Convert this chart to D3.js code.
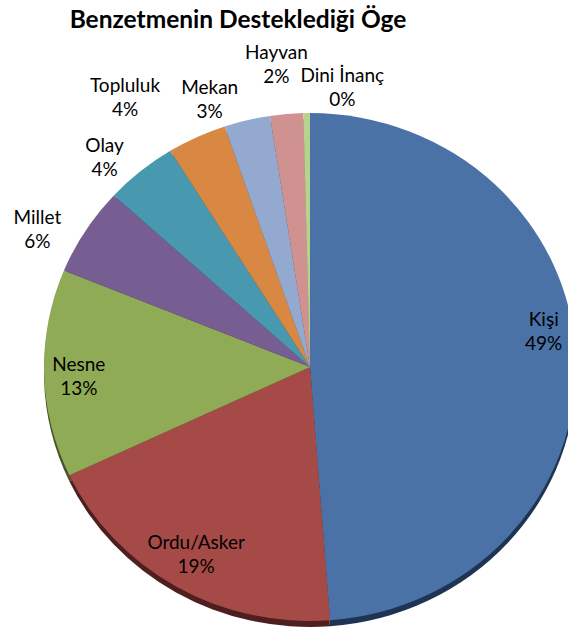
<!DOCTYPE html>
<html>
<head>
<meta charset="utf-8">
<script src="https://cdn.jsdelivr.net/npm/d3@7"></script>
<style>
  body { margin: 0; background: #fff; }
  text { font-family: Lato, "Open Sans", sans-serif; fill: #000; }
</style>
</head>
<body>
<svg id="chart" width="568" height="640"></svg>
<script>
const TITLE = "Benzetmenin Desteklediği Öge";
const categories = ["Kişi", "Ordu/Asker", "Nesne", "Millet", "Olay", "Topluluk", "Mekan", "Hayvan", "Dini İnanç"];
const counts = [122, 48, 33, 14, 11, 9, 7, 5, 1];
const colors = ["#4A72A6", "#A64A47", "#8FAB56", "#765E93", "#4899AF", "#D98843", "#94A9CF", "#CF9291", "#B6D38B"];
const sideColors = ["#1F3352", "#4E1F1E", "#45542A", "#3A2C48", "#224A55", "#6A401E", "#485166", "#654545", "#586645"];
// label placement: radius factor of pie, angle nudge in degrees
const labelRadius = [0.89, 0.85, 0.87, 1.16, 1.13, 1.27, 1.12, 1.2, 1.11];
const labelNudge = [-7, 0, -1, -4.5, -3.5, -8, -6, -1, 7];

const svg = d3.select("#chart");
const cx = 310, cy = 367, rx = 266, ry = 254, depth = 6;
const total = d3.sum(counts);

const pie = d3.pie().sort(null).value(d => d);
const arcs = pie(counts);
const arc = d3.arc().innerRadius(0).outerRadius(rx);

svg.append("text")
  .attr("x", 238)
  .attr("y", 28)
  .attr("text-anchor", "middle")
  .style("font-size", "24.5px")
  .style("font-weight", "bold")
  .text(TITLE);

// side wall (3d depth)
svg.append("g")
  .attr("transform", `translate(${cx},${cy + depth}) scale(1,${ry / rx})`)
  .selectAll("path")
  .data(arcs)
  .enter()
  .append("path")
  .attr("d", arc)
  .attr("fill", (d, i) => sideColors[i]);

svg.append("g")
  .attr("transform", `translate(${cx},${cy}) scale(1,${ry / rx})`)
  .selectAll("path")
  .data(arcs)
  .enter()
  .append("path")
  .attr("d", arc)
  .attr("fill", (d, i) => colors[i]);

const fmt = v => Math.round(v / total * 100) + "%";

const labels = svg.append("g")
  .selectAll("text")
  .data(arcs)
  .enter()
  .append("text")
  .attr("text-anchor", "middle")
  .style("font-size", "19px")
  .attr("transform", (d, i) => {
    const a = (d.startAngle + d.endAngle) / 2 + labelNudge[i] * Math.PI / 180;
    const x = cx + rx * labelRadius[i] * Math.sin(a);
    const y = cy - ry * labelRadius[i] * Math.cos(a);
    return `translate(${x},${y})`;
  });

labels.append("tspan")
  .attr("x", 0)
  .attr("y", -5)
  .text((d, i) => categories[i]);

labels.append("tspan")
  .attr("x", 0)
  .attr("y", 19)
  .text(d => fmt(d.data));
</script>
</body>
</html>
